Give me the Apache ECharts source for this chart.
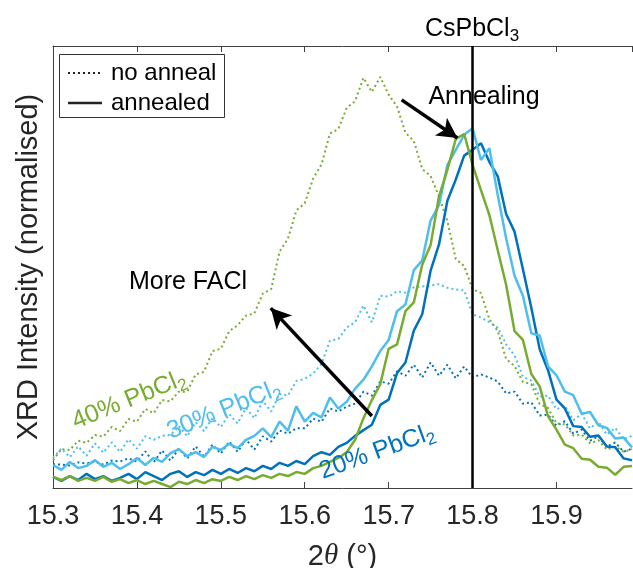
<!DOCTYPE html>
<html>
<head>
<meta charset="utf-8">
<script src="https://cdn.jsdelivr.net/npm/echarts@6/dist/echarts.min.js"></script>
<style>html,body{margin:0;padding:0;background:#fff;}#c{width:633px;height:568px;}</style>
</head>
<body>
<div id="c"></div>
<script>
// 2theta (degrees)
var twoTheta = [15.30,15.31,15.32,15.33,15.34,15.35,15.36,15.37,15.38,15.39,
15.40,15.41,15.42,15.43,15.44,15.45,15.46,15.47,15.48,15.49,
15.50,15.51,15.52,15.53,15.54,15.55,15.56,15.57,15.58,15.59,
15.60,15.61,15.62,15.63,15.64,15.65,15.66,15.67,15.68,15.69,
15.70,15.71,15.72,15.73,15.74,15.75,15.76,15.77,15.78,15.79,
15.80,15.81,15.82,15.83,15.84,15.85,15.86,15.87,15.88,15.89,
15.90,15.91,15.92,15.93,15.94,15.95,15.96,15.97,15.98,15.99];

// annealed (solid)
var pb40Annealed = [2.5,1.8,2.7,1.6,2.3,1.6,2.5,1.4,2.0,1.1,
1.8,0.9,1.6,0.9,0.2,1.4,0.9,1.8,1.1,2.0,
1.6,2.5,1.8,2.7,2.0,2.9,2.3,3.2,2.7,3.6,
3.2,4.5,5.0,5.9,6.8,8.1,10.9,15.8,19.9,23.5,
31.5,32.5,40.0,42.0,50.5,55.0,66.0,72.0,79.0,80.1,
73.1,67.4,61.8,53.8,46.0,35.5,33.5,25.8,23.0,16.2,
13.2,9.8,9.0,6.6,6.4,4.8,4.6,3.0,4.8,5.0];
var pb30Annealed = [5.2,4.1,5.9,4.5,5.0,6.3,4.8,5.7,4.3,5.4,
6.8,5.2,6.8,5.9,7.9,8.8,7.2,8.1,7.0,9.3,
8.6,10.0,9.0,10.9,11.8,13.5,11.5,15.0,13.0,18.5,
15.0,17.0,16.0,20.5,18.0,19.5,22.5,24.5,27.5,31.0,
33.5,40.0,41.5,49.3,51.5,60.5,64.0,73.1,76.5,79.9,
81.4,74.2,76.9,66.3,56.5,48.0,43.5,35.0,34.5,27.5,
25.5,21.8,21.0,16.8,17.2,14.2,13.6,11.2,11.4,9.2];
var pb20Annealed = [2.5,1.6,2.7,1.8,3.2,2.0,2.7,1.6,2.3,3.2,
2.0,3.6,2.7,1.8,3.2,3.8,2.5,3.6,2.9,4.1,
3.2,4.3,3.4,4.5,3.8,5.0,4.3,5.7,5.0,6.1,
5.4,7.2,8.1,7.5,9.3,10.2,11.8,13.1,14.3,18.8,
20.0,26.0,28.4,35.6,39.3,49.2,55.1,65.0,69.8,75.2,
76.5,78.0,73.8,70.5,62.0,58.0,49.5,40.8,31.4,26.6,
20.0,18.0,14.0,13.8,11.6,11.9,9.4,9.2,6.7,6.3];

// not annealed (dotted)
var pb40NoAnneal = [6.3,8.8,8.6,10.7,10.2,12.0,11.6,13.8,12.9,15.6,
15.0,17.9,16.9,19.9,19.6,21.8,21.8,25.7,26.3,31.0,
31.5,35.5,36.8,39.0,39.5,44.0,45.0,53.5,56.4,62.8,
64.4,70.0,73.2,80.2,81.2,86.0,87.5,92.8,89.6,93.0,
89.0,86.3,80.4,78.5,72.2,70.6,66.0,60.4,51.8,50.2,
45.0,44.1,38.2,35.5,29.2,27.6,24.0,23.5,19.0,18.1,
14.6,14.4,11.9,12.1,10.1,10.8,8.7,9.4,8.2,8.8];
var pb30NoAnneal = [6.8,8.9,7.0,9.4,7.3,10.1,8.0,10.3,8.2,11.0,
8.9,11.7,10.9,11.8,12.0,14.0,11.7,14.9,12.9,15.8,
13.8,16.7,14.6,18.1,15.8,19.7,17.3,21.3,20.9,24.2,
24.7,25.9,28.1,33.3,33.7,36.3,37.5,41.3,37.5,43.5,
43.3,44.5,44.2,45.4,45.6,45.8,46.1,45.3,44.9,44.7,
39.3,38.6,37.5,36.3,32.5,30.0,25.2,24.3,20.7,20.9,
17.8,18.6,15.3,16.8,13.5,15.0,12.1,13.6,11.0,11.8];
var pb20NoAnneal = [5.4,5.3,5.1,5.8,5.5,6.0,5.3,6.2,6.0,6.7,
6.0,8.3,5.8,8.5,6.2,8.9,6.7,9.4,7.1,9.8,
7.8,10.5,8.2,11.0,8.7,11.7,10.5,13.0,12.3,13.5,
13.5,15.7,15.0,18.0,17.3,18.4,19.1,21.8,20.9,24.1,
23.6,26.4,25.4,27.9,25.0,28.4,25.4,27.9,24.8,27.5,
25.0,25.7,25.0,24.1,21.4,21.8,19.1,19.4,16.4,16.6,
14.1,15.1,12.3,13.2,10.7,11.7,9.4,10.3,8.2,8.9];

var xTicks = [15.3,15.4,15.5,15.6,15.7,15.8,15.9];
var refPeak = 15.8; // CsPbCl3
var annealArrow = [[15.7155, 87.8],[15.782, 79.2]];
var faclArrow = [[15.680, 16.3],[15.5595, 40.7]];

var GREEN = '#77AC30', LBLUE = '#4DBEEE', DBLUE = '#0072BD';

function pairs(ys){ return twoTheta.map(function(x,i){ return [x, ys[i]]; }); }
function mk(name, ys, color, dotted){
  return {
    name: name, type: 'line', data: pairs(ys), symbol: 'none', silent: true,
    lineStyle: dotted ? {color: color, width: 2, type: [2, 3]} : {color: color, width: 2.5},
    z: dotted ? 2 : 3
  };
}

var chart = echarts.init(document.getElementById('c'), null, {renderer: 'canvas'});
var txt = '#262626';
var option = {
  animation: false,
  grid: {left: 53, top: 46, right: 1, bottom: 80, containLabel: false, outerBoundsMode: 'none'},
  xAxis: [{
    type: 'value', min: 15.3, max: 15.99, interval: 0.1,
    axisLine: {show: true, lineStyle: {color: '#404040', width: 1}},
    axisTick: {show: true, inside: true, length: 6, lineStyle: {color: '#404040'}},
    axisLabel: {color: txt, fontSize: 27, fontFamily: 'Liberation Sans, Arial', margin: 15, showMaxLabel: false,
      formatter: function(v){ return xTicks.indexOf(Math.round(v*10)/10) >= 0 && Math.abs(v*10 - Math.round(v*10)) < 1e-6 ? v.toFixed(1) : ''; }},
    splitLine: {show: false},
    name: '2{i|θ} (°)', nameLocation: 'middle', nameGap: 54,
    nameTextStyle: {color: txt, fontSize: 29, fontFamily: 'Liberation Sans, Arial',
      rich: {i: {fontStyle: 'italic', fontSize: 29, fontFamily: 'Liberation Serif, Times New Roman', color: txt}}}
  }, {
    type: 'value', position: 'top', min: 15.3, max: 15.99, interval: 0.1,
    axisLine: {show: true, lineStyle: {color: '#404040', width: 1}},
    axisTick: {show: true, inside: true, length: 6, lineStyle: {color: '#404040'}},
    axisLabel: {show: false}, splitLine: {show: false}
  }],
  yAxis: {
    type: 'value', min: 0, max: 100,
    axisLine: {show: true, lineStyle: {color: '#404040', width: 1}},
    axisTick: {show: false}, axisLabel: {show: false}, splitLine: {show: false},
    name: 'XRD Intensity (normalised)', nameLocation: 'middle', nameGap: 10, nameRotate: 90,
    nameTextStyle: {color: txt, fontSize: 29, fontFamily: 'Liberation Sans, Arial'}
  },
  series: [
    mk('20% no anneal', pb20NoAnneal, DBLUE, true),
    mk('30% no anneal', pb30NoAnneal, LBLUE, true),
    mk('40% no anneal', pb40NoAnneal, GREEN, true),
    mk('20% annealed', pb20Annealed, DBLUE, false),
    mk('30% annealed', pb30Annealed, LBLUE, false),
    mk('40% annealed', pb40Annealed, GREEN, false),
    {
      type: 'line', data: [], silent: true, z: 5,
      markLine: {
        silent: true, animation: false, label: {show: false},
        data: [
          [{coord: annealArrow[0], symbol: 'none'}, {coord: annealArrow[1], symbol: 'arrow'}],
          [{coord: faclArrow[0], symbol: 'none'}, {coord: faclArrow[1], symbol: 'arrow'}]
        ],
        symbolSize: [16, 20],
        lineStyle: {color: '#000', width: 3.5, type: 'solid'}
      }
    },
    {
      type: 'line', data: [], silent: true, z: 6,
      markLine: {
        silent: true, animation: false, symbol: 'none', label: {show: false},
        data: [{xAxis: refPeak}],
        lineStyle: {color: '#000', width: 2.5, type: 'solid'}
      }
    }
  ],
  graphic: [
    {type: 'rect', shape: {x: 59.5, y: 54.5, width: 165, height: 63}, style: {fill: '#fff', stroke: '#333', lineWidth: 1}, z: 100},
    {type: 'line', shape: {x1: 68, y1: 73, x2: 102, y2: 73}, style: {stroke: '#222', lineWidth: 2, lineDash: [2, 3]}, z: 101},
    {type: 'line', shape: {x1: 68, y1: 103, x2: 102, y2: 103}, style: {stroke: '#222', lineWidth: 2.5}, z: 101},
    {type: 'text', x: 111, y: 73, style: {text: 'no anneal', fontSize: 24, fontFamily: 'Liberation Sans, Arial', fill: '#000', verticalAlign: 'middle'}, z: 101},
    {type: 'text', x: 111, y: 103, style: {text: 'annealed', fontSize: 24, fontFamily: 'Liberation Sans, Arial', fill: '#000', verticalAlign: 'middle'}, z: 101},
    {type: 'text', x: 472, y: 29, style: {text: 'CsPbCl{s|3}', fontSize: 25, fontFamily: 'Liberation Sans, Arial', fill: '#000', align: 'center', verticalAlign: 'middle',
      rich: {s: {fontSize: 17, fontFamily: 'Liberation Sans, Arial', fill: '#000', padding: [14, 0, 0, 0]}}}, z: 101},
    {type: 'text', x: 484, y: 97, style: {text: 'Annealing', fontSize: 25, fontFamily: 'Liberation Sans, Arial', fill: '#000', align: 'center', verticalAlign: 'middle'}, z: 101},
    {type: 'text', x: 188, y: 282, style: {text: 'More FACl', fontSize: 25, fontFamily: 'Liberation Sans, Arial', fill: '#000', align: 'center', verticalAlign: 'middle'}, z: 101},
    {type: 'text', x: 129, y: 400, rotation: 22 * Math.PI / 180, style: {text: '40% PbCl{s|2}', fontSize: 25, fontFamily: 'Liberation Sans, Arial', fill: GREEN, align: 'center', verticalAlign: 'middle',
      rich: {s: {fontSize: 17, fontFamily: 'Liberation Sans, Arial', fill: GREEN, padding: [14, 0, 0, 0]}}}, z: 101},
    {type: 'text', x: 224, y: 410, rotation: 22 * Math.PI / 180, style: {text: '30% PbCl{s|2}', fontSize: 25, fontFamily: 'Liberation Sans, Arial', fill: LBLUE, align: 'center', verticalAlign: 'middle',
      rich: {s: {fontSize: 17, fontFamily: 'Liberation Sans, Arial', fill: LBLUE, padding: [14, 0, 0, 0]}}}, z: 101},
    {type: 'text', x: 377, y: 452, rotation: 20 * Math.PI / 180, style: {text: '20% PbCl{s|2}', fontSize: 25, fontFamily: 'Liberation Sans, Arial', fill: DBLUE, align: 'center', verticalAlign: 'middle',
      rich: {s: {fontSize: 17, fontFamily: 'Liberation Sans, Arial', fill: DBLUE, padding: [14, 0, 0, 0]}}}, z: 101}
  ]
};
chart.setOption(option);
</script>
</body>
</html>
